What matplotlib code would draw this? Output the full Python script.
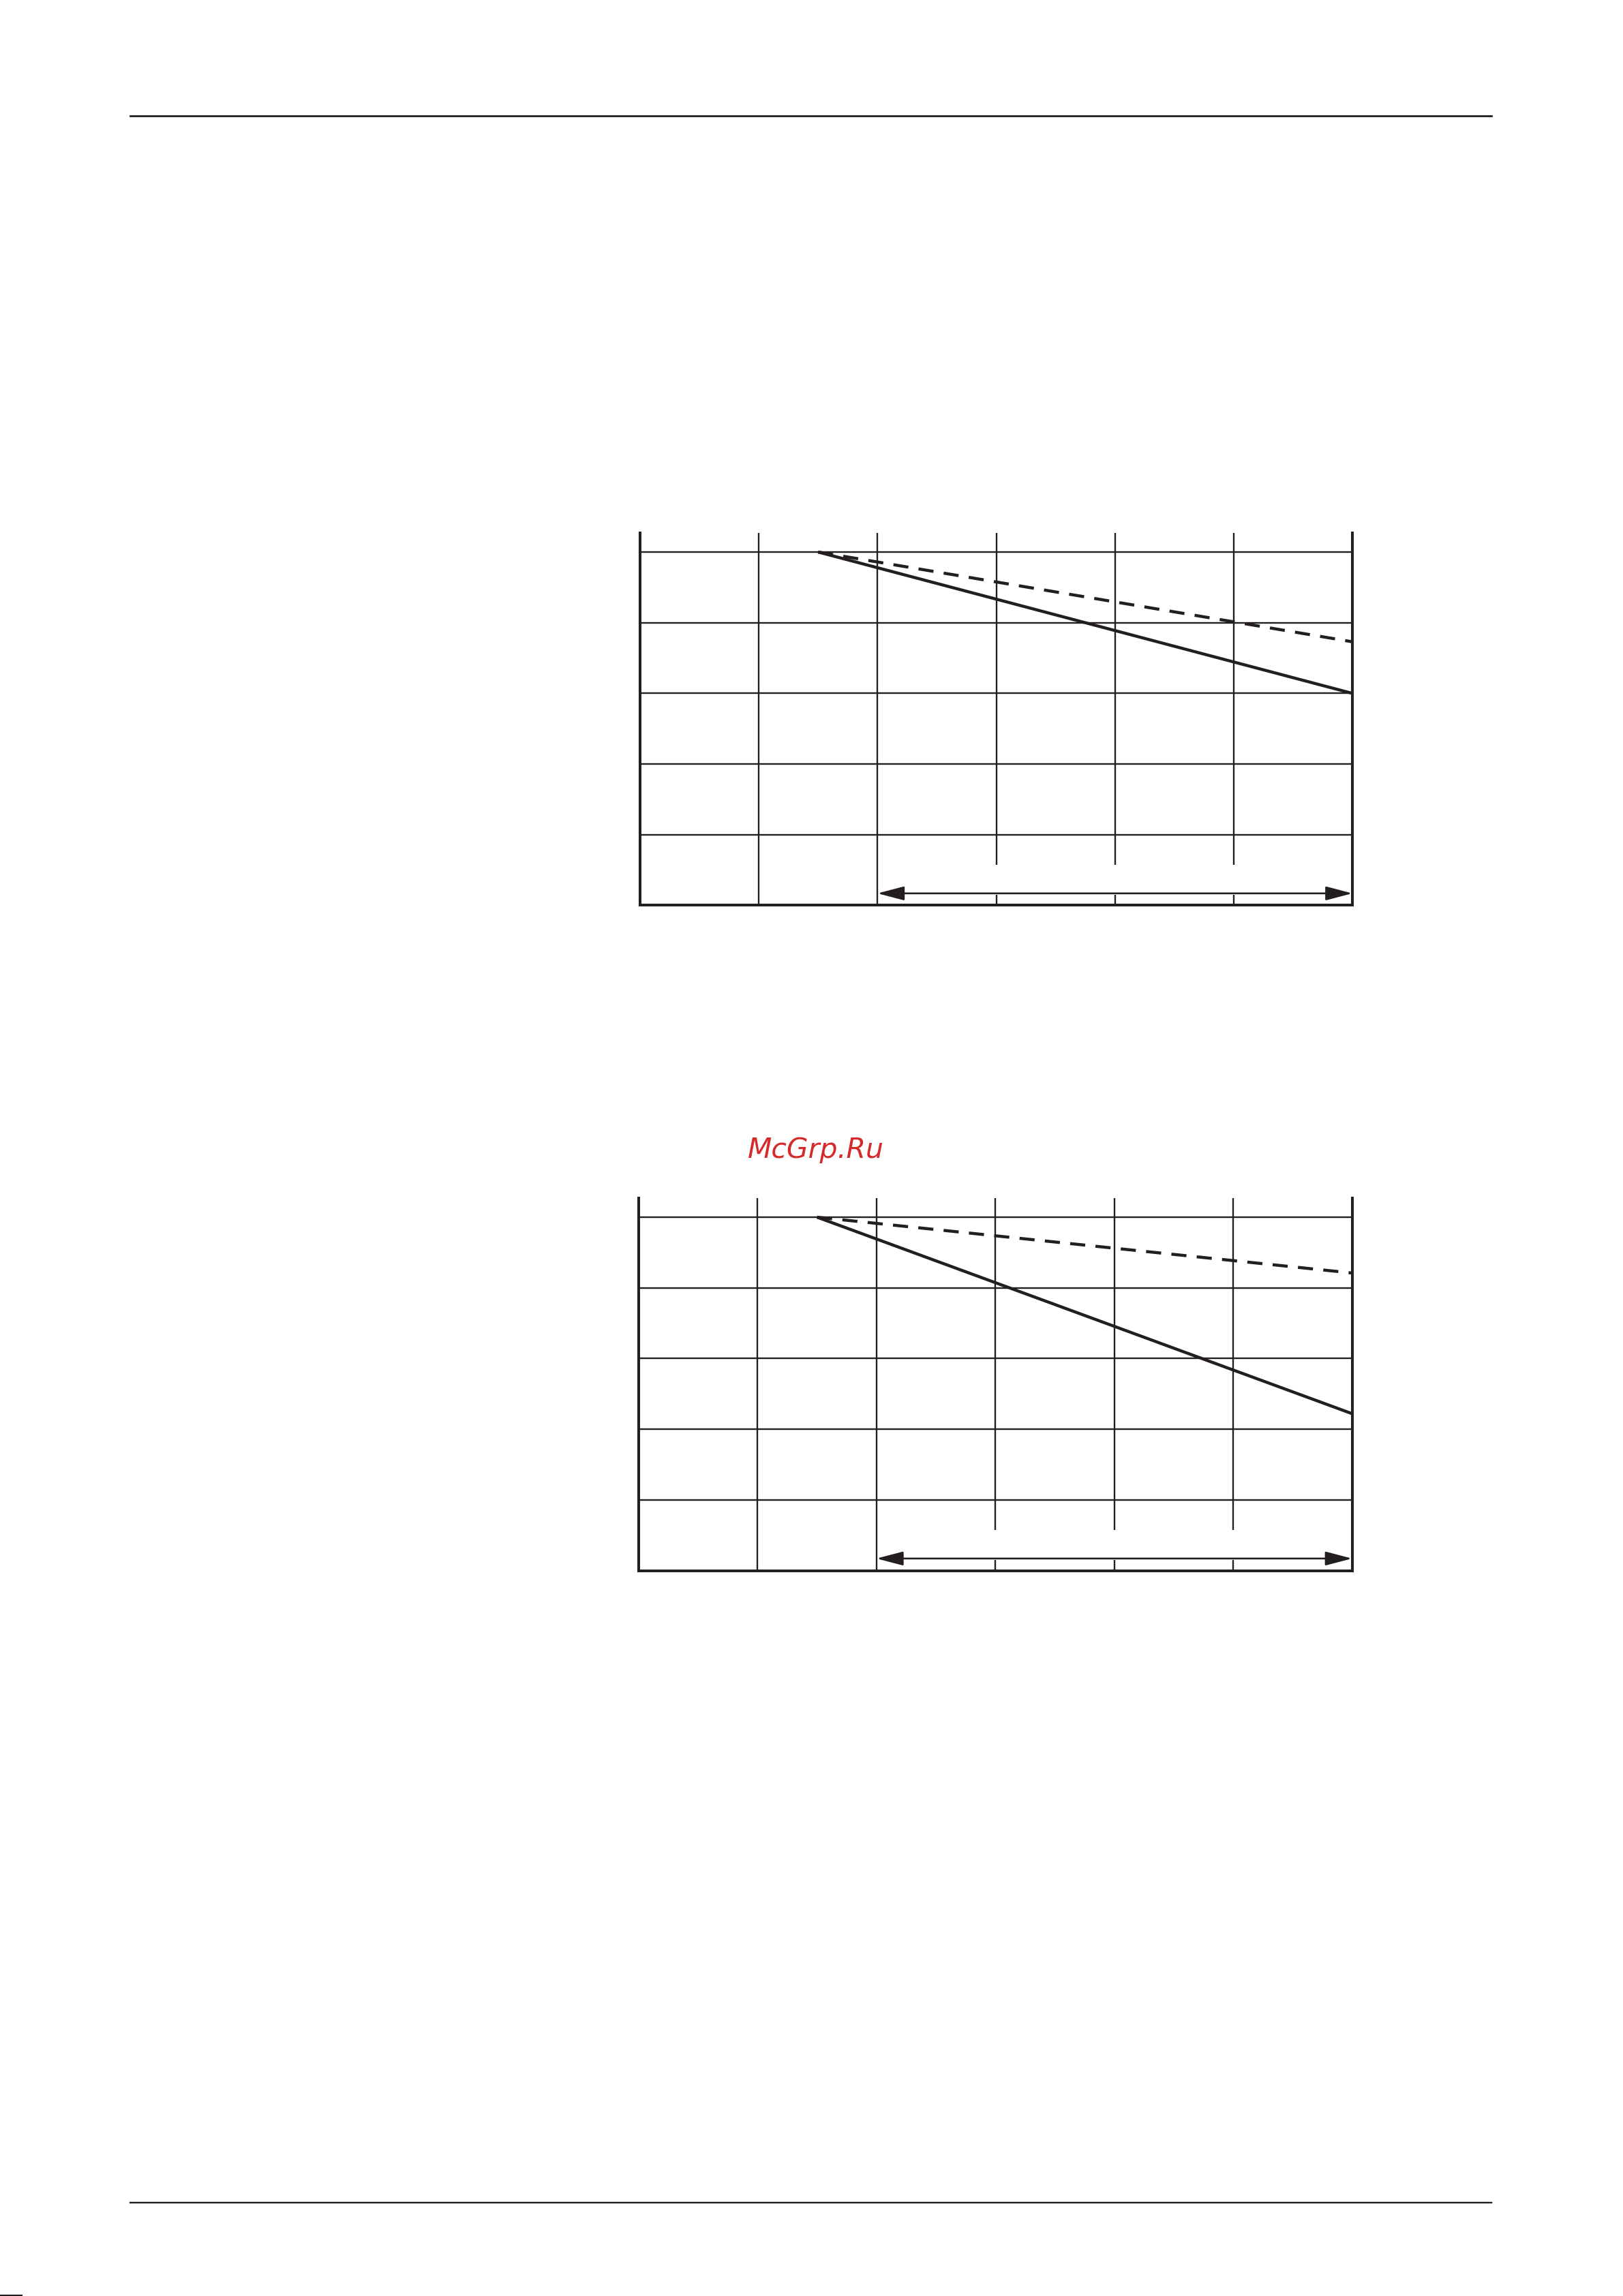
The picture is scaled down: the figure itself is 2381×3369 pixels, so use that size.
import matplotlib
matplotlib.use("Agg")
import matplotlib.pyplot as plt
from matplotlib.lines import Line2D
from matplotlib.patches import FancyArrowPatch

# ---------------- data ----------------
X_DIVISIONS = [0, 1, 2, 3, 4, 5, 6]
Y_DIVISIONS = [1, 2, 3, 4, 5]
Y_TOP = 5.27

CHART1_X = [1.5, 6.0]
CHART1_SOLID = [5.0, 3.0]
CHART1_DASHED = [5.0, 3.73]

CHART2_X = [1.5, 6.0]
CHART2_SOLID = [5.0, 2.22]
CHART2_DASHED = [5.0, 4.21]

RANGE_X = [2.0, 6.0]      # double arrow (range)
RANGE_Y = 0.17
BROKEN_COLS = [3, 4, 5]   # vertical lines interrupted near the arrow
GAP = [0.15, 0.57]
FULL_COLS = [1, 2]

WATERMARK = "McGrp.Ru"

INK = "#231f20"
W, H = 2381, 3369
DPI = 100

fig = plt.figure(figsize=(W / DPI, H / DPI), dpi=DPI)
fig.patch.set_facecolor("white")


def px_axes(left, right, top, bottom):
    return [left / W, 1 - bottom / H, (right - left) / W, (bottom - top) / H]


def draw_chart(ax, xs, solid, dashed):
    ax.set_xlim(X_DIVISIONS[0], X_DIVISIONS[-1])
    ax.set_ylim(0, Y_TOP)
    ax.set_xticks([])
    ax.set_yticks([])
    ax.spines["top"].set_visible(False)
    for s in ("left", "right", "bottom"):
        ax.spines[s].set_linewidth(2.9)
        ax.spines[s].set_color(INK)
    # horizontal grid
    ax.hlines(Y_DIVISIONS, X_DIVISIONS[0], X_DIVISIONS[-1], color=INK, lw=1.7)
    # vertical grid
    ax.vlines(FULL_COLS, 0, Y_TOP, color=INK, lw=1.7)
    ax.vlines(BROKEN_COLS, GAP[1], Y_TOP, color=INK, lw=1.7)
    ax.vlines(BROKEN_COLS, 0, GAP[0], color=INK, lw=1.7)
    # curves
    ax.plot(xs, solid, color=INK, lw=3.2, solid_capstyle="butt")
    ax.plot(xs, dashed, color=INK, lw=3.2, linestyle=(0, (5.0, 3.4)),
            dash_capstyle="butt")
    # range arrow
    arr = FancyArrowPatch((RANGE_X[0], RANGE_Y), (RANGE_X[1], RANGE_Y),
                          arrowstyle="<|-|>,head_length=24,head_width=6.3",
                          mutation_scale=1, shrinkA=0, shrinkB=0,
                          color=INK, lw=1.9)
    ax.add_patch(arr)


ax1 = fig.add_axes(px_axes(939, 1984, 782, 1328.5))
draw_chart(ax1, CHART1_X, CHART1_SOLID, CHART1_DASHED)

ax2 = fig.add_axes(px_axes(937, 1983.5, 1758, 2304.5))
draw_chart(ax2, CHART2_X, CHART2_SOLID, CHART2_DASHED)

# page rules
fig.add_artist(Line2D([191 / W, 2188 / W], [1 - 170 / H, 1 - 170 / H],
                      color=INK, lw=2.0))
fig.add_artist(Line2D([191 / W, 2188 / W], [1 - 3232 / H, 1 - 3232 / H],
                      color=INK, lw=1.7))
fig.add_artist(Line2D([0, 32 / W], [1 - 3368 / H, 1 - 3368 / H],
                      color=INK, lw=1.5))

# watermark
fig.text(1197 / W, 1 - 1699 / H, WATERMARK, color="#d42a2a", fontsize=29.5,
         fontstyle="italic", family="DejaVu Sans", ha="center", va="baseline")

fig.savefig("out.png", dpi=DPI, facecolor="white")
